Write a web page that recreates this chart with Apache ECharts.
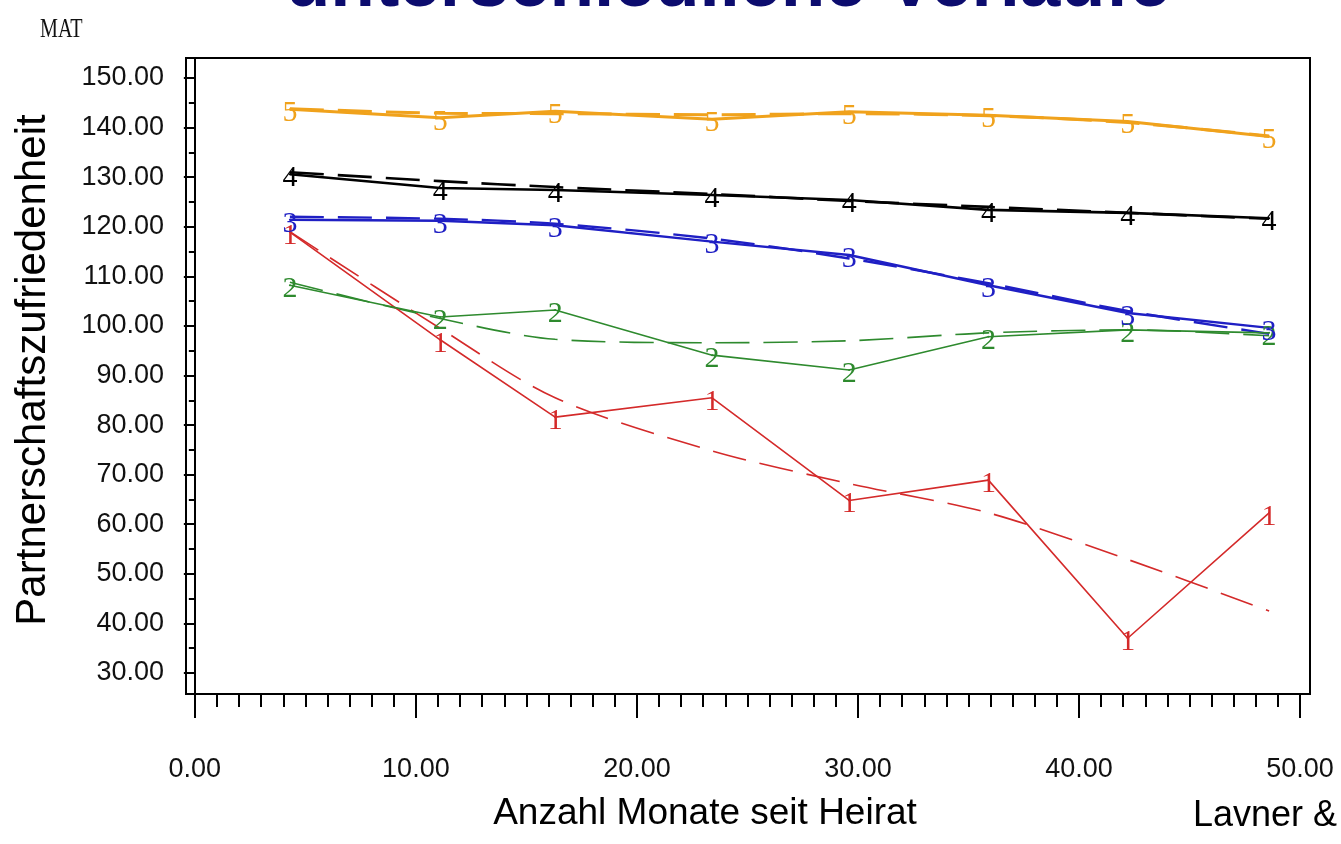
<!DOCTYPE html>
<html>
<head>
<meta charset="utf-8">
<script src="https://cdn.jsdelivr.net/npm/echarts@6/dist/echarts.min.js"></script>
<style>
  html, body { margin: 0; padding: 0; background: #fff; }
  #chart { width: 1341px; height: 844px; }
</style>
</head>
<body>
<div id="chart"></div>
<script>
// Measurement times (months since wedding)
const months = [4.3, 11.1, 16.3, 23.4, 29.6, 35.9, 42.2, 48.6];

// Axis ticks
const xMajorTicks = [0, 10, 20, 30, 40, 50];
const yMajorTicks = [30, 40, 50, 60, 70, 80, 90, 100, 110, 120, 130, 140, 150];

// Observed means (solid) and fitted trajectories (dashed) for the five classes
const class1Observed = [118.9, 97.2, 81.6, 85.5, 64.8, 68.9, 37.0, 62.3];
const class1Fitted   = [119.0, 99.5, 85.5, 74.8, 68.2, 62.3, 52.9, 42.5];
const class2Observed = [108.2, 101.8, 103.2, 94.1, 91.1, 97.8, 99.2, 98.6];
const class2Fitted   = [108.8, 101.5, 97.3, 96.6, 97.0, 98.6, 99.2, 98.0];
const class3Observed = [121.4, 121.2, 120.3, 117.0, 114.3, 108.2, 102.6, 99.6];
const class3Fitted   = [122.0, 121.6, 120.6, 117.6, 113.6, 108.6, 103.0, 98.4];
const class4Observed = [130.6, 127.8, 127.4, 126.4, 125.4, 123.4, 122.8, 121.7];
const class4Fitted   = [131.0, 129.2, 128.0, 126.6, 125.2, 124.0, 122.8, 121.6];
const class5Observed = [143.7, 142.0, 143.3, 141.7, 143.2, 142.5, 141.2, 138.2];
const class5Fitted   = [143.8, 142.9, 142.8, 142.6, 142.8, 142.4, 141.0, 138.3];

const classes = [
  { id: '1', color: '#d42a2a', width: 1.6, observed: class1Observed, fitted: class1Fitted },
  { id: '2', color: '#2e8a2e', width: 1.6, observed: class2Observed, fitted: class2Fitted },
  { id: '3', color: '#1f1fc4', width: 2.4, observed: class3Observed, fitted: class3Fitted },
  { id: '4', color: '#000000', width: 2.6, observed: class4Observed, fitted: class4Fitted },
  { id: '5', color: '#f0a21c', width: 3.0, observed: class5Observed, fitted: class5Fitted }
];

// Minor tick positions between the labelled ticks
const xMinorTicks = [];
for (let v = 1; v < 50; v++) if (v % 10 !== 0) xMinorTicks.push(v);
const yMinorTicks = [];
for (let v = 35; v < 150; v += 10) yMinorTicks.push(v);

const X_MIN = -0.4, X_MAX = 50.45;
const Y_MIN = 25.76, Y_MAX = 154.03;

const tickFont = { fontFamily: '"Liberation Sans", Arial, sans-serif', fontSize: 27, color: '#111' };

const pair = (vals) => months.map((m, i) => [m, vals[i]]);

const series = [];
classes.forEach(c => {
  series.push({
    name: 'Klasse ' + c.id + ' (Modell)',
    type: 'line',
    data: pair(c.fitted),
    smooth: 0.3,
    symbol: 'none',
    silent: true,
    lineStyle: { color: c.color, width: c.width, type: [34, 14] },
    z: 2
  });
  series.push({
    name: 'Klasse ' + c.id,
    type: 'line',
    data: pair(c.observed),
    symbol: 'circle',
    symbolSize: 2,
    itemStyle: { color: c.color },
    lineStyle: { color: c.color, width: c.width },
    label: {
      show: true,
      position: 'inside',
      formatter: c.id,
      color: c.color,
      fontFamily: '"Liberation Serif", serif',
      fontSize: 30,
      offset: [0, 4]
    },
    silent: true,
    z: 3
  });
});

const chart = echarts.init(document.getElementById('chart'), null, { renderer: 'canvas' });
chart.setOption({
  backgroundColor: '#ffffff',
  animation: false,
  grid: {
    left: 186, top: 58, right: 31, bottom: 150,
    show: true, borderColor: '#000', borderWidth: 2, backgroundColor: '#fff'
  },
  xAxis: [
    {
      type: 'value', min: X_MIN, max: X_MAX, position: 'bottom',
      axisLine: { show: true, lineStyle: { color: '#000', width: 2 } },
      axisTick: { show: true, customValues: xMajorTicks, length: 24, lineStyle: { color: '#000', width: 2 } },
      axisLabel: Object.assign({ customValues: xMajorTicks, margin: 62, formatter: v => v.toFixed(2) }, tickFont),
      splitLine: { show: false }
    },
    {
      type: 'value', min: X_MIN, max: X_MAX, position: 'bottom',
      axisLine: { show: false },
      axisTick: { show: true, customValues: xMinorTicks, length: 13, lineStyle: { color: '#000', width: 2 } },
      axisLabel: { show: false },
      splitLine: { show: false }
    }
  ],
  yAxis: [
    {
      type: 'value', min: Y_MIN, max: Y_MAX, position: 'left',
      axisLine: { show: true, lineStyle: { color: '#000', width: 2 } },
      axisTick: { show: true, customValues: yMajorTicks, length: 11, lineStyle: { color: '#000', width: 2 } },
      axisLabel: Object.assign({ customValues: yMajorTicks, margin: 22, formatter: v => v.toFixed(2) }, tickFont),
      splitLine: { show: false }
    },
    {
      type: 'value', min: Y_MIN, max: Y_MAX, position: 'left',
      axisLine: { show: false },
      axisTick: { show: true, customValues: yMinorTicks, length: 6, lineStyle: { color: '#000', width: 2 } },
      axisLabel: { show: false },
      splitLine: { show: false }
    }
  ],
  series: series,
  graphic: [
    {
      type: 'text', x: 728, y: -14,
      style: {
        text: 'unterschiedliche Verläufe',
        font: 'bold 73px "Liberation Sans", Arial, sans-serif',
        fill: '#0c0c6e', align: 'center', verticalAlign: 'middle'
      }
    },
    {
      type: 'text', x: 40, y: 30, scaleX: 0.72,
      style: {
        text: 'MAT',
        font: '28px "Liberation Serif", serif',
        fill: '#111', align: 'left', verticalAlign: 'middle'
      }
    },
    {
      type: 'text', x: 33, y: 370, rotation: Math.PI / 2,
      style: {
        text: 'Partnerschaftszufriedenheit',
        font: '42px "Liberation Sans", Arial, sans-serif',
        fill: '#000', align: 'center', verticalAlign: 'middle'
      }
    },
    {
      type: 'text', x: 705, y: 814,
      style: {
        text: 'Anzahl Monate seit Heirat',
        font: '37px "Liberation Sans", Arial, sans-serif',
        fill: '#000', align: 'center', verticalAlign: 'middle'
      }
    },
    {
      type: 'text', x: 1193, y: 816,
      style: {
        text: 'Lavner &',
        font: '36px "Liberation Sans", Arial, sans-serif',
        fill: '#000', align: 'left', verticalAlign: 'middle'
      }
    }
  ]
});
</script>
</body>
</html>
